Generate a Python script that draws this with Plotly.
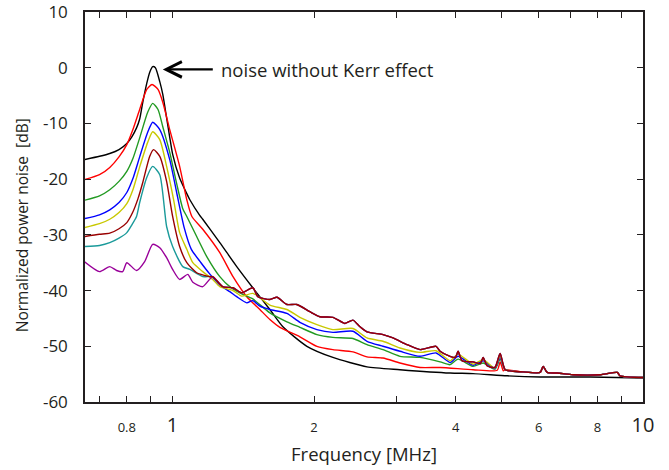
import math
import plotly.graph_objects as go

# Frequenzen in MHz, Rauschen in dB
black_f = [0.650, 0.700, 0.736, 0.770, 0.800, 0.820, 0.839, 0.852, 0.865, 0.882, 0.895, 0.908, 0.920, 0.940, 0.954,
           0.972, 0.987, 1.001, 1.036, 1.073, 1.089, 1.143, 1.160, 1.261, 1.370, 1.482, 1.611, 1.717,
           1.931, 2.193, 2.591, 3.045, 3.890, 4.355, 5.145, 6.046, 7.730, 10.0]
black_db = [-16.5, -15.9, -15.4, -14.7, -13.6, -12.4, -10.8, -9.2, -6.2, -2.8, -0.8, 0.2, 0.0, -2.5, -4.8,
            -9.0, -12.5, -15.5, -19.8, -22.6, -23.7, -26.5, -27.2, -31.4, -35.7, -39.5, -43.4, -46.5,
            -50.0, -52.0, -53.7, -54.2, -54.8, -54.9, -55.3, -55.5, -55.5, -55.7]

red_f = [0.650, 0.700, 0.736, 0.770, 0.800, 0.825, 0.852, 0.882, 0.905, 0.932, 0.954, 0.987, 1.036, 1.073, 1.100, 1.160,
         1.261, 1.345, 1.439, 1.534, 1.611, 1.692, 1.866, 2.028, 2.193, 2.419, 2.591, 2.802, 3.045,
         3.359, 3.705, 4.355, 4.900, 4.971, 5.050]
red_db = [-20.1, -19.2, -17.9, -16.0, -13.8, -11.0, -7.5, -3.9, -3.0, -3.9, -6.2, -11.1, -17.7, -23.7, -26.7, -29.0,
          -33.2, -37.5, -41.1, -43.4, -45.2, -46.6, -48.3, -50.0, -50.6, -51.0, -51.9, -52.1, -53.0,
          -53.8, -53.8, -54.2, -54.3, -52.8, -54.4]

green_f = [0.650, 0.700, 0.736, 0.770, 0.800, 0.825, 0.852, 0.886, 0.908, 0.932, 0.954, 0.987, 1.021, 1.052, 1.073, 1.126,
           1.183, 1.261, 1.324, 1.411, 1.482, 1.611, 1.751, 1.866, 2.028, 2.193, 2.419, 2.591, 2.802,
           3.045, 3.359, 3.705, 3.890, 4.046, 4.355, 4.574, 4.845, 4.971]
green_db = [-23.8, -23.0, -21.9, -20.4, -18.6, -16.2, -12.6, -8.0, -6.4, -7.5, -10.6, -15.2, -20.8, -25.3, -26.7, -30.3,
            -33.9, -37.5, -39.3, -40.7, -41.5, -44.0, -45.6, -46.6, -47.9, -48.4, -48.6, -49.7, -50.6,
            -51.8, -52.0, -52.8, -53.3, -52.3, -53.6, -53.0, -54.1, -52.3]

blue_f = [0.650, 0.700, 0.736, 0.770, 0.800, 0.825, 0.852, 0.886, 0.908, 0.940, 0.987, 1.021, 1.060, 1.097, 1.150, 1.200, 1.261,
          1.324, 1.370, 1.439, 1.482, 1.534, 1.611, 1.751, 1.866, 2.028, 2.193, 2.419, 2.591, 2.802,
          3.045, 3.359, 3.633, 3.890, 4.046, 4.355, 4.574, 4.845, 4.971]
blue_db = [-27.1, -26.4, -25.5, -24.2, -22.4, -19.8, -16.0, -11.6, -9.8, -11.1, -16.5, -22.4, -28.8, -32.6, -35.0, -37.0, -39.0,
           -40.2, -41.1, -42.2, -41.8, -42.8, -43.4, -44.1, -45.7, -47.0, -47.5, -47.3, -49.1, -50.0,
           -50.9, -51.8, -51.2, -52.9, -51.8, -53.4, -52.6, -54.0, -52.0]

yellow_f = [0.650, 0.700, 0.736, 0.770, 0.800, 0.825, 0.852, 0.886, 0.908, 0.940, 0.972, 1.006, 1.036, 1.073, 1.105, 1.160,
            1.218, 1.261, 1.345, 1.404, 1.482, 1.611, 1.751, 1.866, 2.028, 2.193, 2.419, 2.591, 2.802,
            3.045, 3.359, 3.633, 3.890, 4.046, 4.355, 4.574, 4.845, 4.971]
yellow_db = [-28.7, -28.0, -27.2, -26.0, -24.4, -21.8, -17.8, -13.4, -11.5, -12.9, -17.7, -23.7, -29.6, -32.6, -35.0, -36.6,
             -38.0, -39.3, -40.0, -41.0, -40.5, -42.6, -43.4, -44.8, -46.1, -47.0, -46.8, -48.5, -49.1,
             -50.3, -51.1, -50.8, -52.6, -51.4, -53.2, -52.4, -53.9, -51.7]

brown_f = [0.650, 0.700, 0.736, 0.770, 0.800, 0.823, 0.845, 0.865, 0.895, 0.912, 0.940, 0.972, 1.001, 1.036, 1.073, 1.126, 1.200]
brown_db = [-30.3, -29.9, -29.7, -28.9, -27.8, -26.0, -23.5, -20.6, -15.9, -14.7, -15.9, -20.4, -26.7, -32.1, -35.0, -36.8, -37.5]

teal_f = [0.650, 0.700, 0.736, 0.770, 0.800, 0.820, 0.839, 0.852, 0.882, 0.908, 0.940, 0.972, 1.001, 1.052, 1.089, 1.160]
teal_db = [-32.1, -31.9, -31.4, -30.6, -29.6, -28.2, -26.7, -24.2, -19.7, -17.7, -19.2, -28.5, -32.1, -35.7, -36.2, -37.5]

purple_f = [0.650, 0.700, 0.736, 0.761, 0.784, 0.800, 0.839, 0.873, 0.908, 0.940, 0.972, 1.001, 1.036,
            1.078, 1.105, 1.160]
purple_db = [-34.8, -36.6, -35.7, -36.4, -36.6, -35.0, -36.4, -34.8, -31.7, -32.3, -34.1, -36.2, -38.0,
             -37.1, -38.5, -39.3]

# gemeinsamer Verlauf, in dem die Kurven zusammenlaufen
bundle_f = [1.218, 1.279, 1.345, 1.404, 1.482, 1.519, 1.611, 1.668, 1.751, 1.838, 1.960, 2.058, 2.193,
            2.325, 2.419, 2.504, 2.591, 2.802, 2.943, 3.152, 3.359, 3.633, 3.705, 3.890, 3.994, 4.046,
            4.126, 4.355, 4.512, 4.574, 4.664, 4.845, 4.971, 5.095, 5.564, 6.046, 6.136, 6.257, 6.572,
            7.109, 8.113, 8.815, 8.940, 10.0]
bundle_db = [-37.5, -39.3, -39.5, -40.4, -39.5, -41.1, -41.6, -41.2, -42.5, -42.5, -43.8, -44.7, -44.8,
             -45.9, -45.3, -46.5, -47.4, -47.9, -48.5, -49.7, -50.6, -50.0, -50.9, -51.8, -52.0, -50.9,
             -52.6, -52.8, -53.1, -52.0, -53.5, -53.8, -51.3, -54.2, -54.6, -54.7, -53.6, -54.7, -54.8,
             -55.1, -55.1, -54.7, -55.3, -55.6]

x_tickvals = [0.7, 0.8, 0.9, 1, 2, 3, 4, 5, 6, 7, 8, 9, 10]
x_ticktext = ["", "0.8", "", "<span style='font-size:20px'>1</span>", "2", "", "4", "", "6", "",
              "8", "", "<span style='font-size:20px'>10</span>"]
y_tickvals = [10, 0, -10, -20, -30, -40, -50, -60]
y_ticktext = ["10", "0", "-10", "-20", "-30", "-40", "-50", "-60"]

late = bundle_f.index(5.095)

series = [
    ("black", black_f, black_db, "#000000"),
    ("red", red_f + bundle_f[late:], red_db + bundle_db[late:], "#ff0000"),
    ("green", green_f + bundle_f[late:], green_db + bundle_db[late:], "#229a22"),
    ("blue", blue_f + bundle_f[late:], blue_db + bundle_db[late:], "#0000ff"),
    ("yellow", yellow_f + bundle_f[late:], yellow_db + bundle_db[late:], "#c8c800"),
    ("teal", teal_f + bundle_f, teal_db + bundle_db, "#1a9a9a"),
    ("purple", purple_f + bundle_f, purple_db + bundle_db, "#990099"),
    ("brown", brown_f + bundle_f, brown_db + bundle_db, "#990000"),
]

fig = go.Figure()
for name, f, db, col in series:
    fig.add_trace(go.Scatter(x=f, y=db, mode="lines", name=name,
                             line=dict(color=col, width=1.4, shape="spline", smoothing=0.6)))

txt = "#231f20"
fig.update_layout(
    width=669, height=470,
    margin=dict(l=85, r=26, t=12, b=68),
    plot_bgcolor="white", paper_bgcolor="white",
    showlegend=False,
    font=dict(family="Open Sans", color=txt),
)
fig.update_xaxes(
    type="log", range=[math.log10(0.652), 1], automargin=False,
    tickvals=x_tickvals, ticktext=x_ticktext,
    tickfont=dict(size=13), ticks="inside", ticklen=6, tickcolor=txt,
    showline=True, linecolor=txt, linewidth=1.5, mirror="ticks",
    showgrid=False, zeroline=False, ticklabelstandoff=13,
    title=dict(text="Frequency [MHz]", font=dict(size=18.5), standoff=11),
)
fig.update_yaxes(
    range=[-60, 10], tickvals=y_tickvals, ticktext=y_ticktext, automargin=False,
    tickfont=dict(size=17), ticks="inside", ticklen=6, tickcolor=txt,
    showline=True, linecolor=txt, linewidth=1.5, mirror="ticks",
    showgrid=False, zeroline=False, ticklabelstandoff=12, ticklabeloverflow="allow",
)

# y-Achsentitel als Annotation, damit die Lage stimmt
fig.add_annotation(
    xref="paper", yref="paper", x=-0.113, y=0.453, xanchor="center", yanchor="middle",
    text="Normalized power noise&nbsp; [dB]", textangle=-90, showarrow=False,
    font=dict(size=15.5, color=txt),
)

# Pfeil zur Kurve ohne Kerr-Effekt
fig.add_annotation(
    x=math.log10(0.954), y=-0.3, xref="x", yref="y",
    text="noise without Kerr effect", font=dict(size=18.5, color=txt),
    showarrow=True, ax=50, ay=0, xanchor="left", borderpad=7,
    arrowhead=5, arrowwidth=2.2, arrowsize=1.4, arrowcolor="#000000", standoff=0,
)

# Seitenrand entfernen, damit die Grafik bei (0,0) beginnt
fig.write_html("out.html", config={"displayModeBar": False},
               post_script="document.body.style.margin='0px';")
